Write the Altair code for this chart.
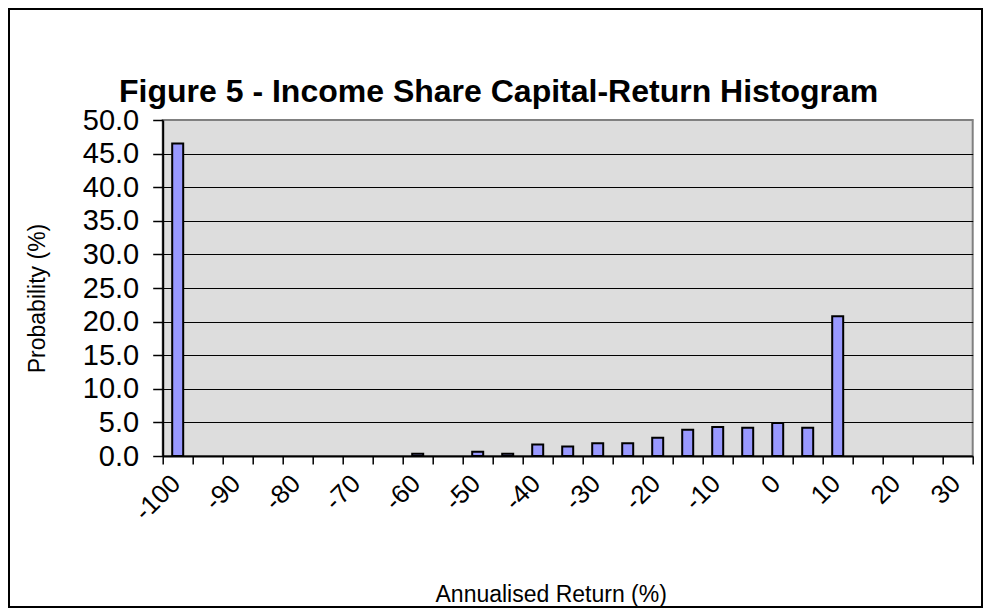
import altair as alt
import pandas as pd

# ---- data ----
returns = [-100, -95, -90, -85, -80, -75, -70, -65, -60, -55, -50, -45, -40, -35,
           -30, -25, -20, -15, -10, -5, 0, 5, 10, 15, 20, 25, 30]
probability = [46.5, 0, 0, 0, 0, 0, 0, 0, 0.35, 0, 0.65, 0.35, 1.7, 1.4,
               1.9, 1.9, 2.7, 3.9, 4.3, 4.2, 4.9, 4.2, 20.8, 0, 0, 0, 0]
y_ticks = [0, 5, 10, 15, 20, 25, 30, 35, 40, 45, 50]
chart_title = ["Figure 5 - Income Share Capital-Return Histogram"]
x_title = "Annualised Return (%)"
y_title = "Probability (%)"

FONT = "Liberation Sans"
W, H = 810, 336

df = pd.DataFrame({"ret": returns, "prob": probability})

x_enc = alt.X(
    "ret:O",
    scale=alt.Scale(domain=returns, paddingInner=0, paddingOuter=0),
    axis=alt.Axis(
        title=x_title,
        labelExpr="datum.value % 10 == 0 ? datum.label : ''",
        labelAngle=315,
        labelAlign="right",
        labelBaseline="middle",
        labelFontSize=26,
        labelPadding=15,
        labelOffset=-2,
        tickBand="extent",
        tickSize=8,
        tickColor="black",
        tickWidth=1.5,
        domainColor="black",
        domainWidth=2,
        titleFontSize=23,
        titleX=388,
        titleY=145,
        titleBaseline="alphabetic",
        titleAlign="center",
        grid=False,
    ),
)

y_enc = alt.Y(
    "prob:Q",
    scale=alt.Scale(domain=[0, 50], nice=False),
    axis=alt.Axis(
        title=y_title,
        values=y_ticks,
        format=".1f",
        labelFontSize=29,
        labelPadding=14,
        tickSize=10,
        tickColor="black",
        tickWidth=1.5,
        domainColor="black",
        domainWidth=2,
        grid=True,
        gridColor=alt.condition("datum.value == 50", alt.value("#808080"), alt.value("black")),
        gridWidth=1,
        titleFontSize=23,
        titleX=-125,
        titleY=178,
        titleAngle=270,
        titleAlign="center",
        titleBaseline="middle",
    ),
)

bars = (
    alt.Chart(df)
    .transform_filter("datum.prob > 0")
    .mark_bar(size=11, fill="#9999FF", stroke="black", strokeWidth=2)
    .encode(x=x_enc, y=y_enc)
)

title = (
    alt.Chart(pd.DataFrame({"t": chart_title}))
    .mark_text(font=FONT, fontSize=32, fontWeight="bold", align="center",
               baseline="alphabetic", color="black")
    .encode(text="t:N", x=alt.value(336), y=alt.value(-18))
)

border = (
    alt.Chart(pd.DataFrame({"a": [0]}))
    .mark_rect(fill="transparent", stroke="black", strokeWidth=2)
    .encode(x=alt.value(-153.7), x2=alt.value(819.3), y=alt.value(-111), y2=alt.value(487))
)

chart = (
    alt.layer(bars, title, border)
    .properties(
        width=W,
        height=H,
        padding={"left": 154.7, "top": 112, "right": 10.3, "bottom": 152},
        autosize=alt.AutoSizeParams(type="none"),
        background="white",
    )
    .configure_view(fill="#DDDDDD", stroke="#808080", strokeWidth=2)
    .configure_axis(labelFont=FONT, titleFont=FONT, labelColor="black",
                    titleColor="black", titleFontWeight="normal")
)

chart.save("out.html", embed_options={"renderer": "svg", "actions": False})
